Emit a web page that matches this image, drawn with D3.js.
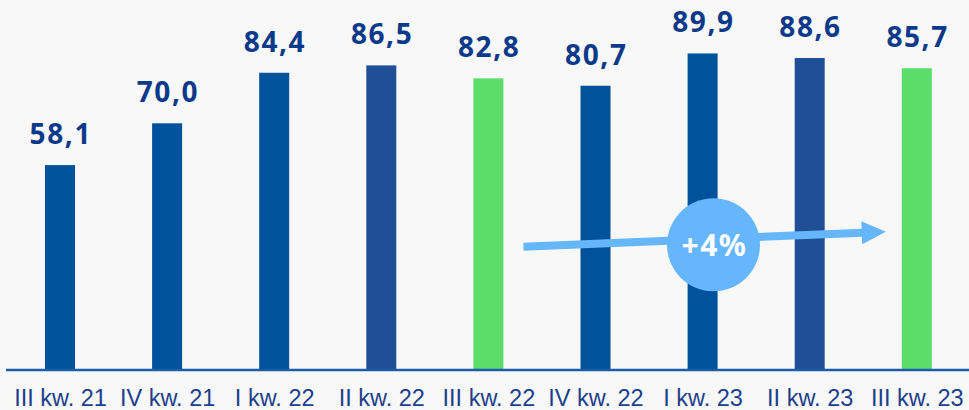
<!DOCTYPE html>
<html><head><meta charset="utf-8">
<script src="https://cdn.jsdelivr.net/npm/d3@7/dist/d3.min.js"></script>
<style>html,body{margin:0;padding:0;background:#f8f8f8;}svg{display:block;}</style>
</head><body>
<svg id="chart" width="969" height="410"></svg>
<script>
const categories = ["III kw. 21","IV kw. 21","I kw. 22","II kw. 22","III kw. 22","IV kw. 22","I kw. 23","II kw. 23","III kw. 23"];
const values = [58.1, 70.0, 84.4, 86.5, 82.8, 80.7, 89.9, 88.6, 85.7];
const valueLabels = ["58,1","70,0","84,4","86,5","82,8","80,7","89,9","88,6","85,7"];
const highlighted = ["III kw. 22","III kw. 23"];
const secondShade = ["II kw. 22","II kw. 23"];
const growthLabel = "+4%";
const growthFrom = "III kw. 22";
const growthTo = "III kw. 23";

const W = 969, H = 410;
const svg = d3.select("#chart");
svg.append("rect").attr("width",W).attr("height",H).attr("fill","#f8f8f8");

const x = d3.scalePoint().domain(categories).range([6.45, 970.35]).padding(0.5);
const y = d3.scaleLinear().domain([0,100]).range([369, 18]);
const barW = 30;

function color(c){
  if (highlighted.includes(c)) return "#5cdc6b";
  if (secondShade.includes(c)) return "#1f4f97";
  return "#00529c";
}

svg.selectAll("rect.bar").data(categories).join("rect")
  .attr("class","bar")
  .attr("x", c => x(c) - barW/2)
  .attr("width", barW)
  .attr("y", (c,i) => y(values[i]))
  .attr("height", (c,i) => y(0) - y(values[i]))
  .attr("fill", c => color(c));

svg.selectAll("text.val").data(categories).join("text")
  .attr("class","val")
  .attr("x", c => x(c) + 0.8)
  .attr("y", (c,i) => y(values[i]) - 21)
  .attr("text-anchor","middle")
  .attr("font-family","'Noto Sans', sans-serif")
  .attr("font-weight","bold")
  .attr("font-size", 28)
  .attr("letter-spacing", 1.6)
  .attr("fill","#0c3a8a")
  .text((c,i) => valueLabels[i]);

// baseline axis
const axis = d3.axisBottom(x).tickSize(0).tickPadding(0);
const gAxis = svg.append("g").attr("transform",`translate(0,${y(0)+1})`).call(axis);
gAxis.select(".domain").attr("d","M6,0H969").attr("stroke","#1c5ca8").attr("stroke-width",2.4);
gAxis.selectAll(".tick text")
  .attr("dy", 0).attr("y", 36)
  .attr("font-family","'Liberation Sans', Arial, sans-serif")
  .attr("font-size", 23.5)
  .attr("fill","#1b3f8c");

// growth arrow
const arrowColor = "#66b6fc";
const x0 = x(growthFrom) + 35, x1 = x(growthTo) - 31;
const yA = 246.7, yB = 231.7;
const headLen = 24, headHalf = 11.5;
const ang = Math.atan2(yB - yA, x1 - x0);
const bx = x1 - headLen*Math.cos(ang), by = yB - headLen*Math.sin(ang);
svg.append("line").attr("x1",x0).attr("y1",yA).attr("x2",bx+1).attr("y2",by)
  .attr("stroke",arrowColor).attr("stroke-width",8);
svg.append("path")
  .attr("d",`M${x1},${yB}L${bx - headHalf*Math.sin(ang)},${by + headHalf*Math.cos(ang)}L${bx + headHalf*Math.sin(ang)},${by - headHalf*Math.cos(ang)}Z`)
  .attr("fill",arrowColor);
const cx = 713.5, cy = 244.8;
svg.append("circle").attr("cx",cx).attr("cy",cy).attr("r",46.5).attr("fill",arrowColor);
svg.append("text").attr("x",cx+1).attr("y",cy+11)
  .attr("text-anchor","middle")
  .attr("font-family","'Noto Sans', sans-serif")
  .attr("font-weight","bold").attr("font-size",30)
  .attr("letter-spacing", 1.5)
  .attr("fill","#ffffff").text(growthLabel);
</script>
</body></html>
